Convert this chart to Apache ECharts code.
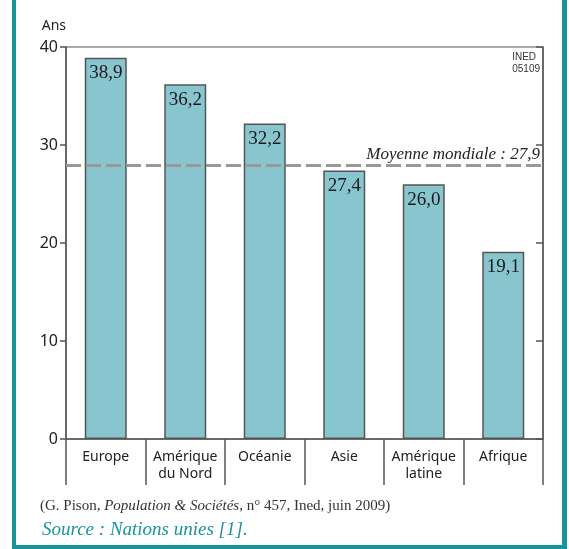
<!DOCTYPE html>
<html>
<head>
<meta charset="utf-8">
<script src="https://cdn.jsdelivr.net/npm/echarts@6/dist/echarts.min.js"></script>
<style>
html,body{margin:0;padding:0;background:#fff;}
#chart{width:569px;height:549px;}
</style>
</head>
<body>
<div id="chart"></div>
<script>
var categories = ['Europe', 'Amérique\ndu Nord', 'Océanie', 'Asie', 'Amérique\nlatine', 'Afrique'];
var values = [38.9, 36.2, 32.2, 27.4, 26.0, 19.1];
var worldMean = 27.9;
var yTicks = [0, 10, 20, 30, 40];

var teal = '#17959c';
var axisColor = '#555';

var chart = echarts.init(document.getElementById('chart'));
function fr(v){ return v.toFixed(1).replace('.', ','); }

chart.setOption({
  animation: false,
  backgroundColor: '#fff',
  grid: { left: 66, right: 26, top: 47, bottom: 110, show: true, borderColor: axisColor, borderWidth: 1 },
  xAxis: {
    type: 'category',
    data: categories,
    axisLine: { lineStyle: { color: axisColor, width: 1.5 } },
    axisTick: { show: true, length: 46, interval: 0, lineStyle: { color: axisColor, width: 1.5 } },
    axisLabel: { interval: 0, color: '#222', fontFamily: 'Noto Sans', fontSize: 14, lineHeight: 17, margin: 10 }
  },
  yAxis: [{
    type: 'value',
    min: yTicks[0], max: yTicks[yTicks.length - 1], interval: 10,
    name: 'Ans',
    nameLocation: 'end',
    nameGap: 14,
    nameTextStyle: { color: '#222', fontFamily: 'Noto Sans', fontSize: 14, align: 'right' },
    axisLine: { show: true, lineStyle: { color: axisColor, width: 1.5 } },
    axisTick: { show: true, length: 6, lineStyle: { color: axisColor, width: 1.5 } },
    axisLabel: { color: '#222', fontFamily: 'Noto Sans', fontSize: 16, margin: 8 },
    splitLine: { show: false }
  }, {
    type: 'value',
    position: 'right',
    min: yTicks[0], max: yTicks[yTicks.length - 1], interval: 10,
    axisLine: { show: true, lineStyle: { color: axisColor, width: 1.5 } },
    axisTick: { show: true, inside: true, length: 7, lineStyle: { color: axisColor, width: 1.5 } },
    axisLabel: { show: false },
    splitLine: { show: false }
  }],
  series: [{
    type: 'bar',
    data: values,
    yAxisIndex: 0,
    barWidth: 42,
    itemStyle: { color: '#88c5ce', borderColor: '#555', borderWidth: 1.5 },
    label: {
      show: true, position: 'insideTop', distance: 6,
      formatter: function(p){ return fr(p.value); },
      color: '#1a1a1a', fontFamily: 'Liberation Serif', fontSize: 19
    },
    markLine: {
      silent: true,
      symbol: ['none', 'none'],
      lineStyle: { color: '#999999', type: [15, 5], width: 3, opacity: 1 },
      label: {
        position: 'insideEndTop',
        formatter: 'Moyenne mondiale : ' + fr(worldMean),
        color: '#222', fontFamily: 'Liberation Serif', fontStyle: 'italic', fontSize: 17, distance: [3, 3]
      },
      data: [{ yAxis: worldMean }]
    }
  }],
  graphic: [
    { type: 'rect', shape: { x: 12, y: 0, width: 4, height: 549 }, style: { fill: teal } },
    { type: 'rect', shape: { x: 562, y: 0, width: 5, height: 549 }, style: { fill: teal } },
    { type: 'rect', shape: { x: 12, y: 545, width: 555, height: 4 }, style: { fill: teal } },
    { type: 'text', right: 29, top: 51, style: { text: 'INED\n05109', align: 'right', fill: '#333', font: '10px "Liberation Sans Narrow", "Liberation Sans", sans-serif', lineHeight: 12 } },
    { type: 'text', left: 40, top: 499, style: {
        rich: {
          n: { fill: '#333', font: '15px "Liberation Serif", serif' },
          i: { fill: '#333', font: 'italic 15px "Liberation Serif", serif' }
        },
        text: '{n|(G. Pison, }{i|Population & Sociétés}{n|, n° 457, Ined, juin 2009)}'
      } },
    { type: 'text', left: 42, top: 520, style: { text: 'Source : Nations unies [1].', fill: teal, font: 'italic 19px "Liberation Serif", serif' } }
  ]
});
</script>
</body>
</html>
